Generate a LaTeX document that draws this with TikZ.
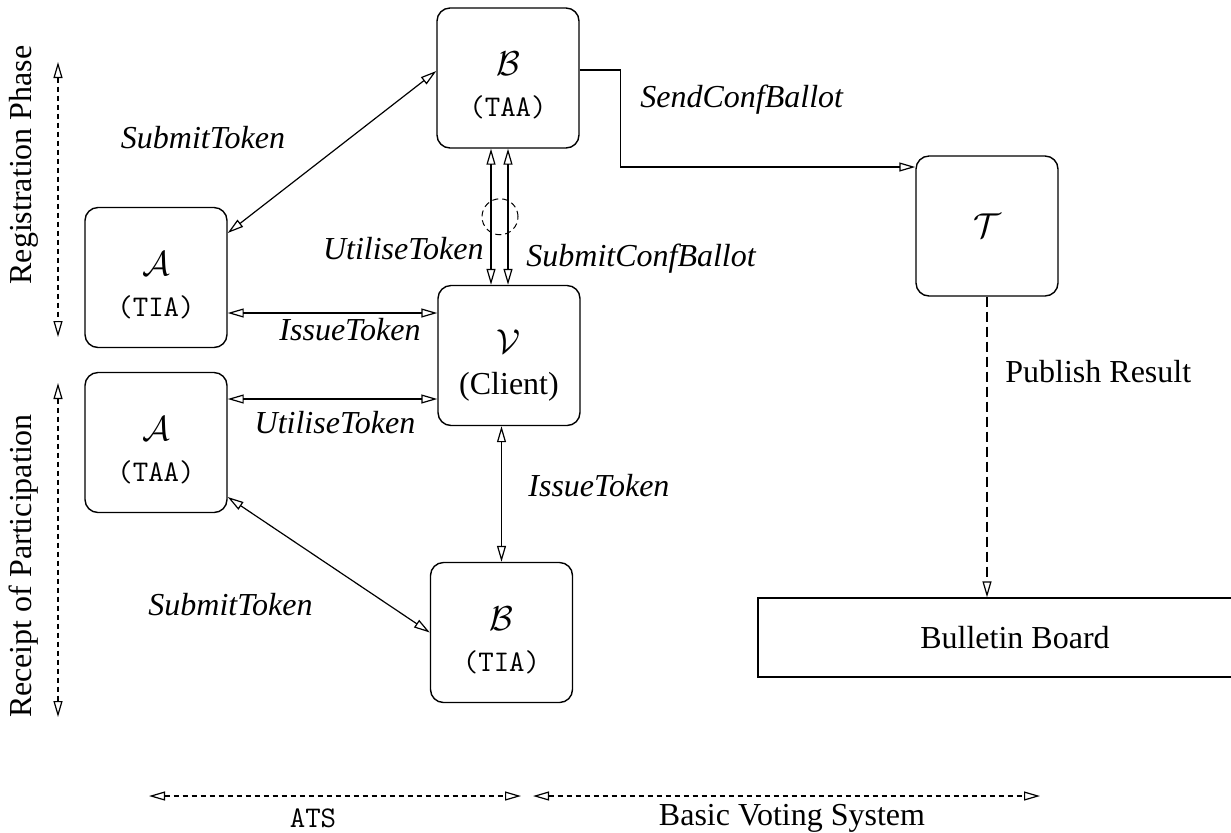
\documentclass[tikz,border=0pt]{standalone}
\usepackage{fontspec}
\setmainfont{Liberation Serif}
\usetikzlibrary{arrows.meta,calc}
\newcommand\tcode[1]{{\fontsize{15}{16}\selectfont\ttfamily #1}}
% two-line party label, set slightly below the box centre
\newcommand\party[2]{\raisebox{-5pt}[\height][\depth]{%
  \begin{tabular}{@{}c@{}}#1\\#2\end{tabular}}}
\begin{document}
\begin{tikzpicture}[
  x=0.5pt, y=-0.5pt,
  font=\fontsize{16}{20.5}\selectfont,
  >={Triangle[open,length=8pt,width=4.5pt]},
  box/.style={draw, line width=0.7pt, rounded corners=6.5pt,
    minimum width=71pt, minimum height=70pt, inner sep=0pt},
  board/.style={draw, line width=0.7pt, minimum width=257pt,
    minimum height=39.5pt, inner sep=0pt},
  link/.style={line width=0.6pt},
  phase/.style={line width=0.6pt, dash pattern=on 2.5pt off 2pt},
  lbl/.style={font=\fontsize{16}{19}\selectfont\itshape, inner sep=0pt},
  txt/.style={inner sep=0pt}
]
\useasboundingbox (0,0) rectangle (1231,832);

% parties
\node[box] (Btaa) at (508,78)    {\party{$\mathcal{B}$}{\tcode{(TAA)}}};
\node[box] (Atia) at (156,277.5) {\party{$\mathcal{A}$}{\tcode{(TIA)}}};
\node[box] (V)    at (509,355.5) {\party{$\mathcal{V}$}{(Client)}};
\node[box] (Ataa) at (156,442.5) {\party{$\mathcal{A}$}{\tcode{(TAA)}}};
\node[box] (Btia) at (501.5,632.5) {\party{$\mathcal{B}$}{\tcode{(TIA)}}};
\node[box] (T)    at (987,226)   {$\mathcal{T}$};
\node[board] (BB) at (1015,637.5) {Bulletin Board};

% attachment points on the box sides
\coordinate (aTop)  at ([yshift=22.25pt]Atia.east);
\coordinate (bTop)  at ([yshift=3.5pt]Btaa.west);
\coordinate (aIss)  at ([yshift=-17.75pt]Atia.east);
\coordinate (aUti)  at ([yshift=21.75pt]Ataa.east);
\coordinate (aLow)  at ([yshift=-27.25pt]Ataa.east);
\coordinate (bOutL) at ([xshift=-8.5pt]Btaa.south);
\coordinate (bOut)  at ([yshift=4pt]Btaa.east);
\coordinate (tIn)   at ([yshift=29.5pt]T.west);

% registration phase
\draw[link,<->] (aTop) -- (bTop);
\draw[link,<->] (bOutL) -- (bOutL |- V.north);
\draw[link,<->] (Btaa.south) -- (Btaa.south |- V.north);
\node[draw, circle, dash pattern=on 3pt off 2pt, line width=0.5pt,
  minimum size=18pt, inner sep=0pt] (ring)
  at ($(Btaa.south)!0.5!(Btaa.south |- V.north)+(-8,0)$) {};
\draw[link,<->] (aIss) -- (aIss -| V.west);
\draw[link,->] (bOut) -- ++(41,0) |- (tIn);

% receipt of participation
\draw[link,<->] (aUti) -- (aUti -| V.west);
\draw[link,<->] (Btia.north |- V.south) -- (Btia.north);
\draw[link,<->] (aLow) -- (Btia.west);

% publishing
\draw[line width=0.6pt, dash pattern=on 5pt off 2.5pt,->]
  (T.south) -- (T.south |- BB.north);

% message labels
\node[lbl] (lSub1) at (203,138) {SubmitToken};
\node[lbl, anchor=east] (lUti1) at (484,249) {UtiliseToken};
\node[lbl, anchor=west] (lConf) at (526,259) {SubmitConfBallot};
\node[lbl, anchor=west] (lSend) at (640,100) {SendConfBallot};
\node[lbl] (lIss1) at (350,330) {IssueToken};
\node[lbl] (lUti2) at (335,423) {UtiliseToken};
\node[lbl, anchor=west] (lIss2) at (528,486) {IssueToken};
\node[lbl, anchor=west] (lSub2) at (148,605) {SubmitToken};
\node[txt, anchor=west] (lPub) at (1005,372) {Publish Result};

% phase markers on the left
\coordinate (rgTop) at (58,62);
\coordinate (rgBot) at (58,337);
\coordinate (rcTop) at (58,383);
\coordinate (rcBot) at (58,717);
\draw[phase,<->] (rgTop) -- (rgBot);
\draw[phase,<->] (rcTop) -- (rcBot);
\node[txt, rotate=90] (nReg) at (24,165) {Registration Phase};
\node[txt, rotate=90] (nRec) at (24,566) {Receipt of Participation};

% system extents along the bottom
\coordinate (atsL) at (149,796);
\coordinate (atsR) at (521,796);
\coordinate (bvsL) at (533,796);
\coordinate (bvsR) at (1040,796);
\draw[phase,<->] (atsL) -- (atsR);
\draw[phase,<->] (bvsL) -- (bvsR);
\node[txt] (nAts) at (313,818) {\tcode{ATS}};
\node[txt] (nBvs) at (792,818) {Basic Voting System};
\end{tikzpicture}
\end{document}
